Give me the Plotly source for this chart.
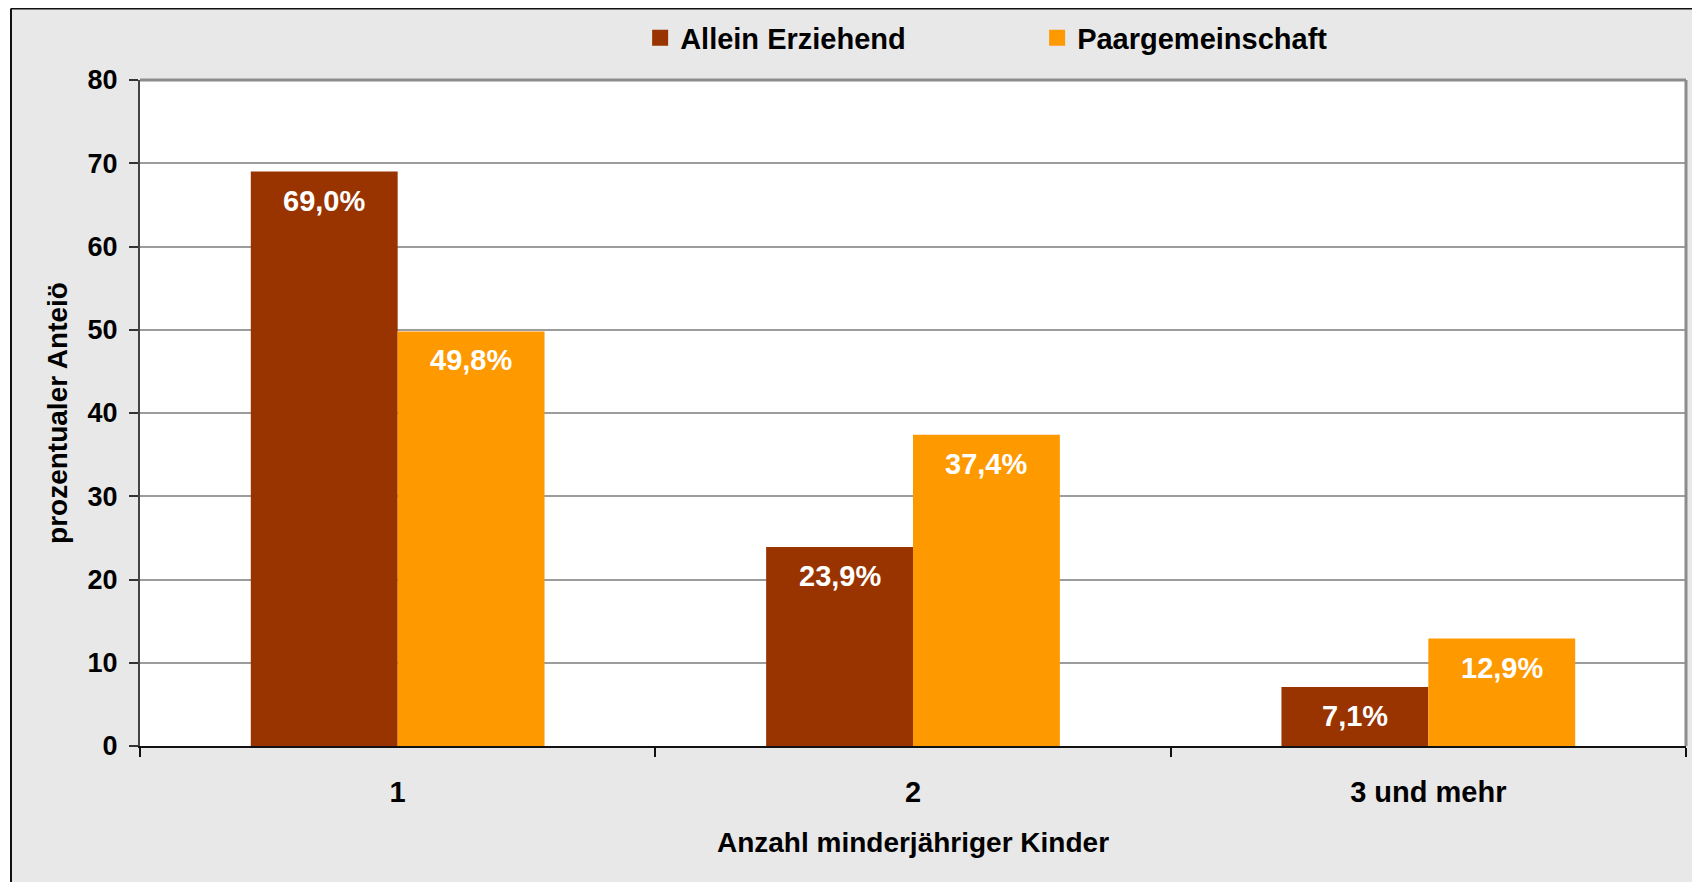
import plotly.graph_objects as go

categories = ["1", "2", "3 und mehr"]
allein = [69.0, 23.9, 7.1]
paar = [49.8, 37.4, 12.9]
series_names = ["Allein Erziehend", "Paargemeinschaft"]
colors = ["#993300", "#FF9900"]
y_ticks = [0, 10, 20, 30, 40, 50, 60, 70, 80]

W, H = 1692, 874
ML, MR, MT, MB = 132, 14, 72, 136
PW, PH = W - ML - MR, H - MT - MB
BARGAP = 0.43

def px2x(px):
    return (px - ML) / PW

def py2y(py):
    return (H - MB - py) / PH

FONT = "Liberation Sans, Arial, Helvetica, sans-serif"

fig = go.Figure()
for name, vals, col in zip(series_names, [allein, paar], colors):
    fig.add_trace(go.Bar(x=categories, y=vals, name=name, marker=dict(color=col, line=dict(width=0)),
                         showlegend=False, hoverinfo="x+y"))
    # legend proxy
    fig.add_trace(go.Scatter(x=[None], y=[None], mode="markers", name=name,
                             marker=dict(symbol="square", size=20, color=col), showlegend=True))

# data labels inside bars near the top
half = (1 - BARGAP) / 4
for si, vals in enumerate([allein, paar]):
    off = -half if si == 0 else half
    for ci, v in enumerate(vals):
        fig.add_annotation(x=ci + off, y=v, xref="x", yref="y", text=f"{v:.1f}%".replace(".", ","),
                           showarrow=False, yanchor="middle", yshift=-29,
                           font=dict(family=FONT, size=29, color="white", weight="bold"))

shapes = [
    # white strip left of and above the chart frame
    dict(type="rect", xref="paper", yref="paper", x0=px2x(-10), x1=px2x(3), y0=py2y(H + 20), y1=py2y(-10),
         fillcolor="white", line=dict(width=0), layer="below"),
    # frame lines of the chart area
    dict(type="line", xref="paper", yref="paper", x0=px2x(3), x1=px2x(W + 20), y0=py2y(0.5), y1=py2y(0.5),
         line=dict(color="#111111", width=2), layer="below"),
    dict(type="line", xref="paper", yref="paper", x0=px2x(3), x1=px2x(3), y0=py2y(H + 20), y1=py2y(0.5),
         line=dict(color="#111111", width=2), layer="below"),
    # plot area
    dict(type="rect", xref="paper", yref="paper", x0=0, x1=1, y0=0, y1=1,
         fillcolor="white", line=dict(width=0), layer="below"),
    dict(type="line", xref="paper", yref="paper", x0=0, x1=1, y0=1, y1=1,
         line=dict(color="#8C8C8C", width=3), layer="above"),
    dict(type="line", xref="paper", yref="paper", x0=1, x1=1, y0=0, y1=1,
         line=dict(color="#8C8C8C", width=3), layer="above"),
]

fig.update_layout(
    width=W, height=H,
    margin=dict(l=ML, r=MR, t=MT, b=MB, autoexpand=False),
    paper_bgcolor="#E8E8E8", plot_bgcolor="white",
    barmode="group", bargap=BARGAP, bargroupgap=0,
    font=dict(family=FONT, size=28, color="black", weight="bold"),
    shapes=shapes,
    legend=dict(orientation="h", x=0.3235, xanchor="left", y=1 + (MT - 30) / PH, yanchor="middle",
                bgcolor="rgba(0,0,0,0)", entrywidth=352, itemsizing="trace",
                font=dict(family=FONT, size=29, color="black", weight="bold")),
    xaxis=dict(type="category", showline=True, linecolor="#111111", linewidth=1.5,
               ticks="outside", tickson="boundaries", ticklen=9, tickcolor="#111111", tickwidth=1.5,
               ticklabelstandoff=19, showgrid=False, zeroline=False, automargin=False,
               tickfont=dict(family=FONT, size=29, color="black", weight="bold"),
               title=dict(text="Anzahl minderjähriger Kinder", standoff=26,
                          font=dict(family=FONT, size=28, color="black", weight="bold"))),
    yaxis=dict(range=[0, 80], tickvals=y_ticks, showline=True, linecolor="#444444", linewidth=2,
               ticks="outside", ticklen=9, tickcolor="#333333", tickwidth=1.5, ticklabelstandoff=6,
               showgrid=True, gridcolor="#9C9C9C", gridwidth=2, zeroline=False, automargin=False,
               tickfont=dict(family=FONT, size=27, color="black", weight="bold"),
               title=dict(text="prozentualer Anteiö", standoff=12,
                          font=dict(family=FONT, size=28, color="black", weight="bold"))),
)

fig.write_html("out.html")
